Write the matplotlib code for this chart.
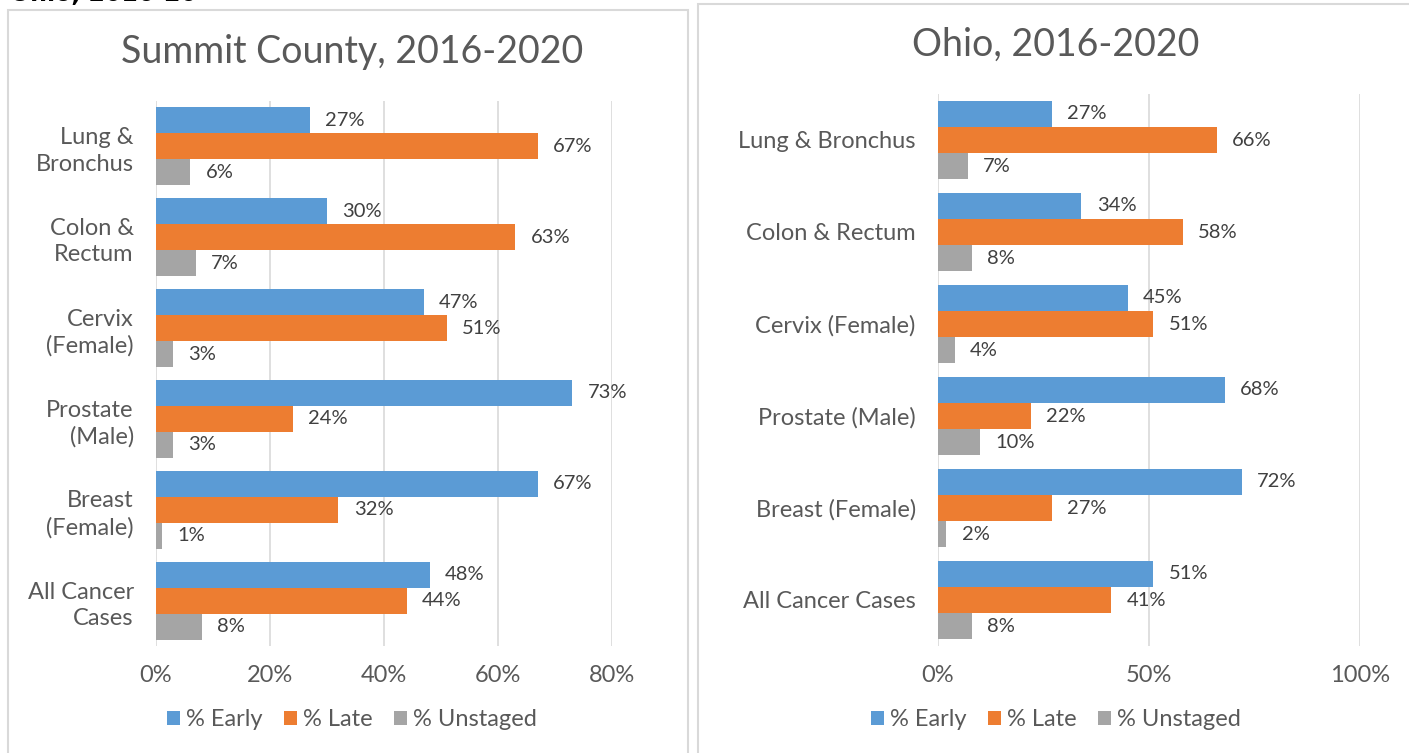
import numpy as np
import matplotlib.pyplot as plt
from matplotlib.patches import Rectangle

# data
summit_cats = ["Lung &\nBronchus", "Colon &\nRectum", "Cervix\n(Female)",
               "Prostate\n(Male)", "Breast\n(Female)", "All Cancer\nCases"]
summit_early = [27, 30, 47, 73, 67, 48]
summit_late = [67, 63, 51, 24, 32, 44]
summit_unstaged = [6, 7, 3, 3, 1, 8]

ohio_cats = ["Lung & Bronchus", "Colon & Rectum", "Cervix (Female)",
             "Prostate (Male)", "Breast (Female)", "All Cancer Cases"]
ohio_early = [27, 34, 45, 68, 72, 51]
ohio_late = [66, 58, 51, 22, 27, 41]
ohio_unstaged = [7, 8, 4, 10, 2, 8]

series_names = ["% Early", "% Late", "% Unstaged"]
colors = ["#5B9BD5", "#ED7D31", "#A5A5A5"]

W, H = 1409, 753
fig = plt.figure(figsize=(W / 100, H / 100), dpi=100)

TXT = "#595959"
LBL = "#404040"
tfont = "Lato"


def panel(rect, cats, vals, xmax, step, title, title_y, legend_x):
    ax = fig.add_axes(rect)
    n = len(cats)
    y = np.arange(n)
    h = 1 / 3.5
    for i, (v, c, name) in enumerate(zip(vals, colors, series_names)):
        pos = y + (i - 1) * h
        bars = ax.barh(pos, v, height=h, color=c, label=name, zorder=2)
        ax.bar_label(bars, labels=[f"{x}%" for x in v], padding=11,
                     fontsize=14.5, color=LBL, family=tfont)
    ax.set_ylim(n - 0.5, -0.5)
    ax.set_xlim(0, xmax)
    ticks = np.arange(0, xmax + 0.1, step)
    ax.set_xticks(ticks)
    ax.set_xticklabels([f"{int(t)}%" for t in ticks])
    ax.set_yticks(y)
    ax.set_yticklabels(cats, linespacing=1.3)
    for s in ax.spines.values():
        s.set_visible(False)
    ax.grid(axis="x", color="#D9D9D9", lw=1.2, zorder=0)
    ax.set_axisbelow(True)
    ax.tick_params(length=0, labelsize=17, colors=TXT)
    ax.tick_params(axis="y", pad=16)
    ax.tick_params(axis="x", pad=14)
    for t in ax.get_xticklabels() + ax.get_yticklabels():
        t.set_family(tfont)
    fig.text(legend_x, title_y, title, ha="center", va="center", fontsize=27,
             color=TXT, family=tfont)
    leg = fig.legend(*ax.get_legend_handles_labels(), loc="center",
                     bbox_to_anchor=(legend_x, 1 - 720 / H), ncol=3, frameon=False,
                     handlelength=0.55, handleheight=0.55, handletextpad=0.25,
                     columnspacing=0.9, prop={"family": tfont, "size": 17})
    for t in leg.get_texts():
        t.set_color(TXT)
    return ax


# panel borders
fig.patches.append(Rectangle((8 / W, -0.01), 680 / W, 1 - 10 / H + 0.01,
                             transform=fig.transFigure, fill=False,
                             ec="#D9D9D9", lw=1.5))
fig.patches.append(Rectangle((698 / W, -0.01), 720 / W, 1 - 4 / H + 0.01,
                             transform=fig.transFigure, fill=False,
                             ec="#D9D9D9", lw=1.5))

panel([156 / W, 1 - 646 / H, (612 - 156) / W, (646 - 101) / H],
      summit_cats, [summit_early, summit_late, summit_unstaged],
      80, 20, "Summit County, 2016-2020", 1 - 52 / H, 352 / W)
panel([938 / W, 1 - 646 / H, (1360 - 938) / W, (646 - 94) / H],
      ohio_cats, [ohio_early, ohio_late, ohio_unstaged],
      100, 50, "Ohio, 2016-2020", 1 - 45 / H, 1056 / W)

# heading of the page, cut off at the top edge as in the source
fig.text(10 / W, 1 + 6 / H, "Ohio, 2016-20", ha="left", va="center",
         fontsize=17, fontweight="bold", color="black", family="DejaVu Sans")

fig.savefig("out.png", dpi=100)
